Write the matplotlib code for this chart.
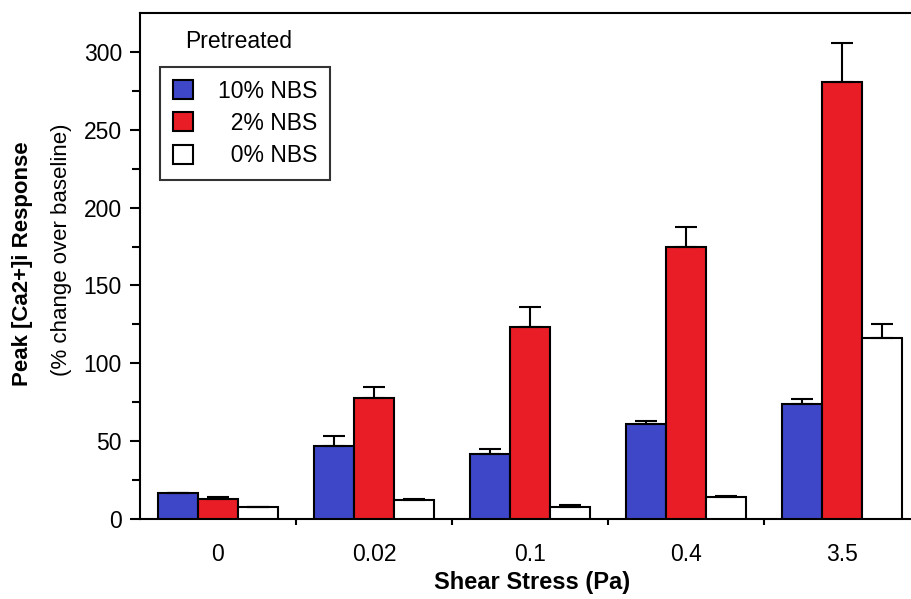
import matplotlib.pyplot as plt
import numpy as np
from matplotlib.patches import Patch

plt.rcParams['font.family'] = ['Liberation Sans', 'DejaVu Sans']

# data
stress = ['0', '0.02', '0.1', '0.4', '3.5']
nbs10 = [17, 47, 42, 61, 74]
nbs10_err = [0, 6, 3, 2, 3]
nbs2 = [13, 78, 123, 175, 281]
nbs2_err = [1.2, 7, 13, 12.5, 24.5]
nbs0 = [8, 12, 8, 14, 116]
nbs0_err = [0, 1, 1, 0.8, 9]

blue = '#3f47c9'
red = '#e91d25'

fig = plt.figure(figsize=(9.11, 5.99), dpi=100)
ax = fig.add_axes([140 / 911, 1 - 519 / 599, 780 / 911, 506 / 599])

x = np.arange(len(stress))
w = 0.256
err_kw = dict(ecolor='black', elinewidth=1.5, capsize=8, capthick=1.5)
ax.bar(x - w, nbs10, w, color=blue, edgecolor='black', linewidth=1.5,
       yerr=[np.zeros(5), nbs10_err], error_kw=err_kw, zorder=3)
ax.bar(x, nbs2, w, color=red, edgecolor='black', linewidth=1.5,
       yerr=[np.zeros(5), nbs2_err], error_kw=err_kw, zorder=3)
ax.bar(x + w, nbs0, w, color='white', edgecolor='black', linewidth=1.5,
       yerr=[np.zeros(5), nbs0_err], error_kw=err_kw, zorder=3)

ax.set_xlim(-0.5, 4.5)
ax.set_ylim(0, 325)

ax.set_yticks(np.arange(0, 301, 50))
ax.set_yticks(np.arange(25, 300, 50), minor=True)
ax.tick_params(axis='y', which='major', length=7, width=1.5, labelsize=16.5, pad=6)
ax.tick_params(axis='y', which='minor', length=6, width=1.5)

ax.set_xticks(x + 0.5)
ax.set_xticklabels([])
ax.set_xticks(x, minor=True)
ax.set_xticklabels(stress, minor=True)
ax.tick_params(axis='x', which='major', length=4, width=1.5)
ax.tick_params(axis='x', which='minor', length=0, labelsize=16.5, pad=17)

for s in ax.spines.values():
    s.set_linewidth(1.5)

fig.text(532 / 911, 1 - 583 / 599, 'Shear Stress (Pa)', ha='center', va='center',
         fontsize=17, fontweight='bold')
fig.text(23 / 911, 1 - 264 / 599, 'Peak [Ca2+]i Response', ha='center', va='center',
         rotation=90, fontsize=16, fontweight='bold')
fig.text(62 / 911, 1 - 250 / 599, '(% change over baseline)', ha='center', va='center',
         rotation=90, fontsize=16)

handles = [Patch(facecolor=blue, edgecolor='black', linewidth=1.5),
           Patch(facecolor=red, edgecolor='black', linewidth=1.5),
           Patch(facecolor='white', edgecolor='black', linewidth=1.5)]
labels = ['10% NBS', '  2% NBS', '  0% NBS']
leg = ax.legend(handles, labels, loc='upper left', bbox_to_anchor=(20 / 780, 1 - 54 / 506),
                fontsize=16.5, frameon=True, fancybox=False, handlelength=0.9,
                handleheight=0.9, handletextpad=1.1, borderpad=0.55, labelspacing=0.4,
                borderaxespad=0)
leg.get_frame().set_edgecolor('black')
leg.get_frame().set_linewidth(1.5)
ax.text(45 / 780, 1 - 29 / 506, 'Pretreated', transform=ax.transAxes,
        ha='left', va='center', fontsize=16.5)

fig.savefig('out.png', dpi=100)
